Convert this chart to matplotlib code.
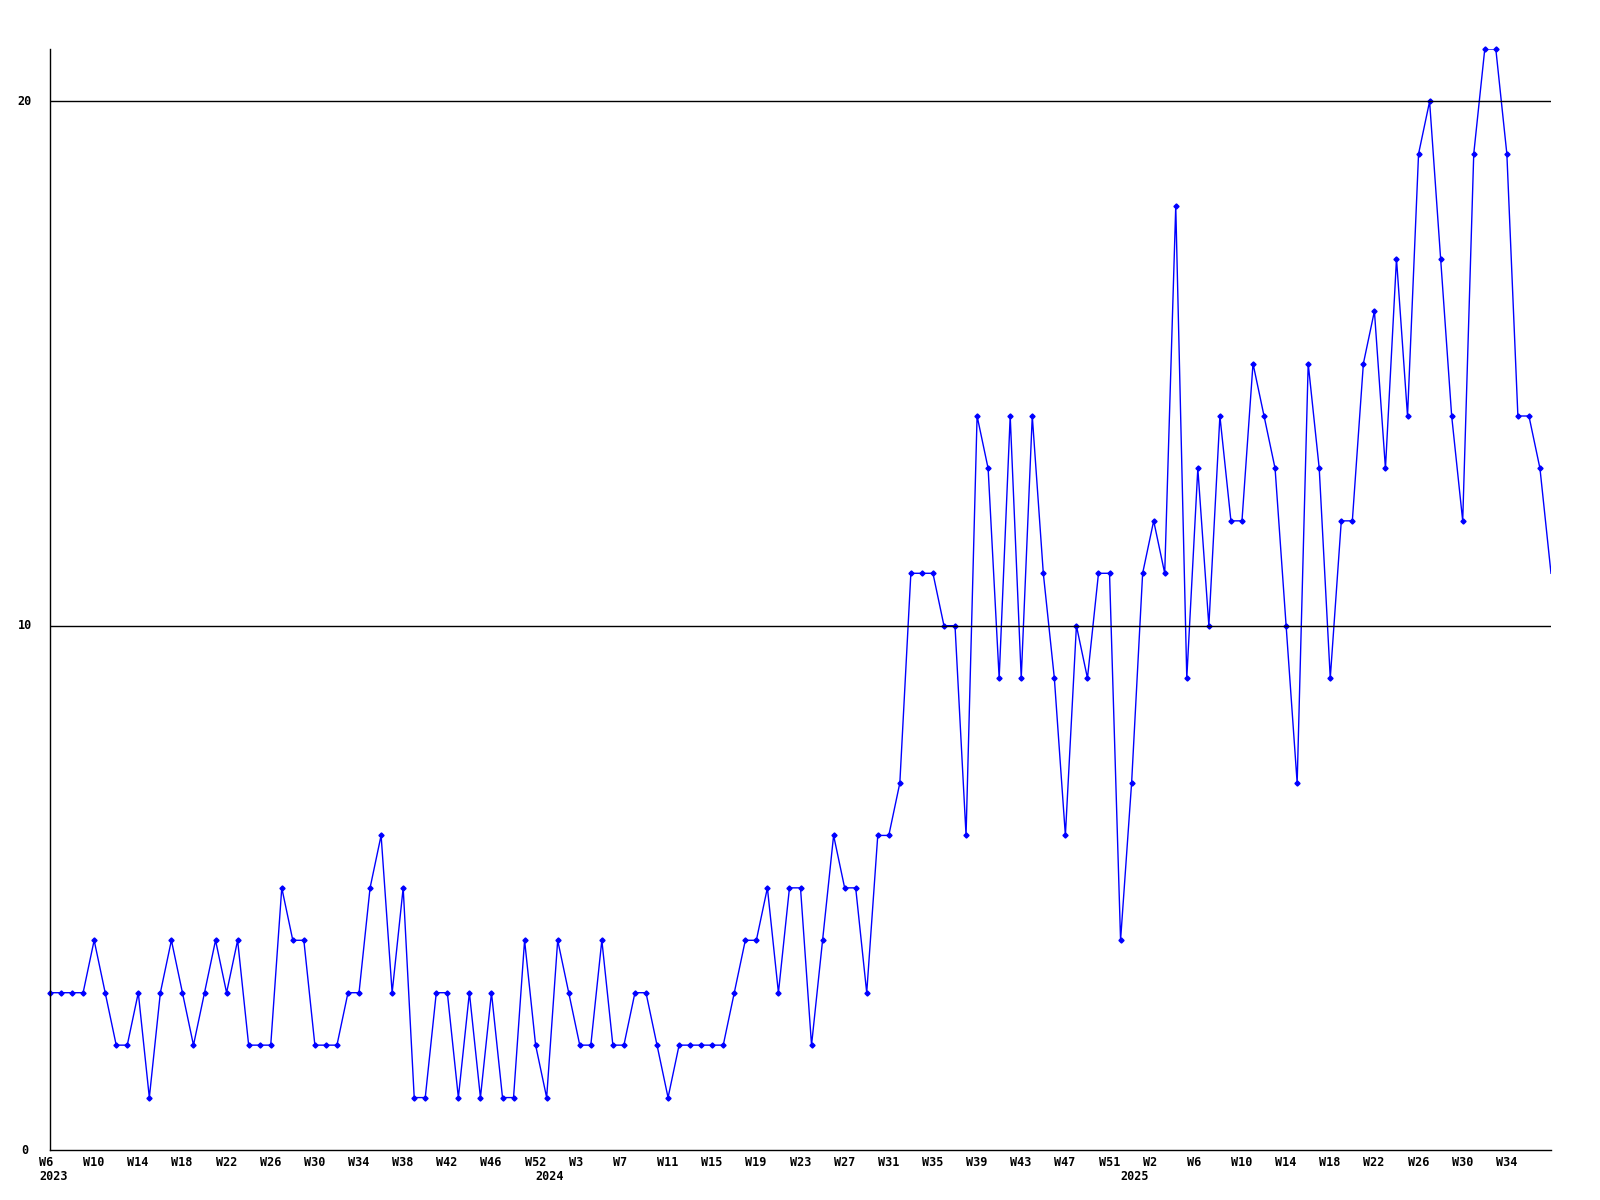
import matplotlib
matplotlib.use('Agg')
import matplotlib.pyplot as plt
import matplotlib.transforms as mtransforms

# weekly counts, one per week from 2023 W6 on
counts = [3, 3, 3, 3, 4, 3, 2, 2, 3, 1, 3, 4, 3, 2, 3, 4, 3, 4, 2, 2,
          2, 5, 4, 4, 2, 2, 2, 3, 3, 5, 6, 3, 5, 1, 1, 3, 3, 1, 3, 1,
          3, 1, 1, 4, 2, 1, 4, 3, 2, 2, 4, 2, 2, 3, 3, 2, 1, 2, 2, 2,
          2, 2, 3, 4, 4, 5, 3, 5, 5, 2, 4, 6, 5, 5, 3, 6, 6, 7, 11, 11,
          11, 10, 10, 6, 14, 13, 9, 14, 9, 14, 11, 9, 6, 10, 9, 11, 11, 4, 7, 11,
          12, 11, 18, 9, 13, 10, 14, 12, 12, 15, 14, 13, 10, 7, 15, 13, 9, 12, 12, 15,
          16, 13, 17, 14, 19, 20, 17, 14, 12, 19, 21, 21, 19, 14, 14, 13, 11]

week_labels = ['W6', 'W10', 'W14', 'W18', 'W22', 'W26', 'W30', 'W34', 'W38', 'W42',
               'W46', 'W52', 'W3', 'W7', 'W11', 'W15', 'W19', 'W23', 'W27', 'W31',
               'W35', 'W39', 'W43', 'W47', 'W51', 'W2', 'W6', 'W10', 'W14', 'W18',
               'W22', 'W26', 'W30', 'W34']
week_pos = list(range(0, 4 * len(week_labels), 4))

years = ['2023', '2024', '2025']
year_pos = [0, 45, 98]

y_labels = [0, 10, 20]

fig = plt.figure(figsize=(16, 12), dpi=100)
ax = fig.add_axes([50 / 1600, 50 / 1200, 1501 / 1600, 1101 / 1200])

x = list(range(len(counts)))
ax.plot(x, counts, color='#0000ff', linewidth=1.0)
# markers on every point except the last one, which sits on the edge
ax.plot(x[:-1], counts[:-1], linestyle='none', marker='D', markersize=2.6,
        color='#0000ff', clip_on=False)

for v in y_labels[1:]:
    ax.axhline(v, color='black', linewidth=1)

ax.set_xlim(0, len(counts) - 1)
ax.set_ylim(0, 21)
ax.set_xticks([])
ax.set_yticks([])
ax.spines['top'].set_visible(False)
ax.spines['right'].set_visible(False)
ax.spines['left'].set_linewidth(1)
ax.spines['bottom'].set_linewidth(1)

font = dict(family='DejaVu Sans Mono', fontweight='bold', fontsize=8.5)
px_per_x = 1501 / (len(counts) - 1)

# week and year labels below the axis
trans_x = mtransforms.blended_transform_factory(ax.transData, ax.transAxes)
for pos, lab in zip(week_pos, week_labels):
    ax.text(pos - 11 / px_per_x, -12 / 1101, lab, transform=trans_x,
            ha='left', va='center', **font)
for pos, lab in zip(year_pos, years):
    ax.text(pos - 11 / px_per_x, -27 / 1101, lab, transform=trans_x,
            ha='left', va='center', **font)

# y labels left of the axis
trans_y = mtransforms.blended_transform_factory(ax.transAxes, ax.transData)
for v in y_labels:
    ax.text(-25 / 1501, v, str(v), transform=trans_y, ha='center', va='center', **font)

fig.savefig('out.png', dpi=100)
